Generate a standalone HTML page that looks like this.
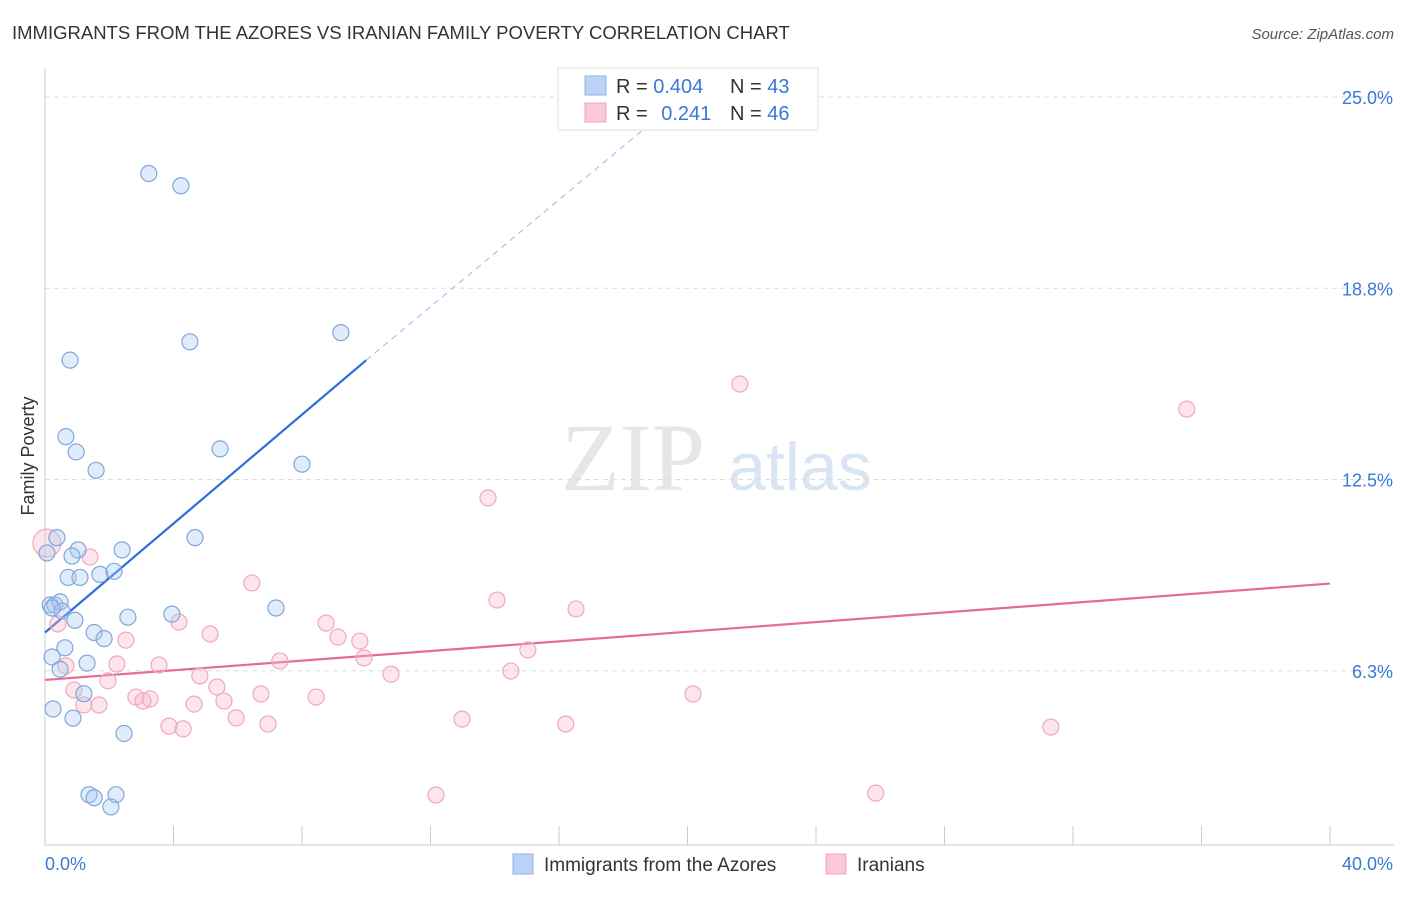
<!DOCTYPE html>
<html><head><meta charset="utf-8"><style>
body{margin:0;background:#fff;font-family:"Liberation Sans",sans-serif}
</style></head><body>
<svg id="chart" width="1406" height="892" xmlns="http://www.w3.org/2000/svg">
<text x="12" y="39" font-size="18.5" fill="#333">IMMIGRANTS FROM THE AZORES VS IRANIAN FAMILY POVERTY CORRELATION CHART</text>
<text x="1394" y="39" font-size="15" fill="#555" font-style="italic" text-anchor="end">Source: ZipAtlas.com</text>
<text x="633" y="490" font-size="96" fill="#e6e6e6" font-family="Liberation Serif" text-anchor="middle">ZIP</text>
<text x="800" y="490" font-size="68" fill="#d9e4f4" text-anchor="middle">atlas</text>
<text transform="translate(34,456) rotate(-90)" font-size="18" fill="#333" text-anchor="middle">Family Poverty</text>
<g id="grid"></g><g id="ticks"></g><g id="lines"></g><g id="pts"></g>
<g>
<rect x="558" y="68" width="260" height="62" fill="#fff" stroke="#ddd"/>
<rect x="585" y="76" width="21" height="19" fill="#bcd3f5" stroke="#8fb2e8"/>
<rect x="585" y="103" width="21" height="19" fill="#fac8d7" stroke="#f0a4bc"/>
<text x="616" y="93" font-size="20" fill="#333">R = <tspan fill="#3a78d6">0.404</tspan></text>
<text x="730" y="93" font-size="20" fill="#333">N = <tspan fill="#3a78d6">43</tspan></text>
<text x="616" y="120" font-size="20" fill="#333">R = <tspan fill="#3a78d6" dx="8">0.241</tspan></text>
<text x="730" y="120" font-size="20" fill="#333">N = <tspan fill="#3a78d6">46</tspan></text>
</g>
<g>
<rect x="513" y="854" width="20" height="20" fill="#bcd3f5" stroke="#8fb2e8"/>
<text x="544" y="871" font-size="19" fill="#333">Immigrants from the Azores</text>
<rect x="826" y="854" width="20" height="20" fill="#fac8d7" stroke="#f0a4bc"/>
<text x="857" y="871" font-size="19" fill="#333">Iranians</text>
</g>
</svg>
<script>
const yTicks=[6.25,12.5,18.75,25];
const yTickLabels=["6.3%","12.5%","18.8%","25.0%"];
const xLabels=["0.0%","40.0%"];
const blueX=[3.23,4.23,4.51,9.21,0.78,0.65,0.97,1.59,5.45,8.00,4.67,2.40,0.37,1.03,0.84,0.06,0.72,1.09,1.71,2.15,0.16,0.31,0.47,0.53,0.22,2.58,0.93,3.95,7.19,1.53,1.84,0.62,0.22,1.31,0.47,1.21,0.25,0.87,2.46,1.37,1.53,2.21,2.05];
const blueY=[22.5,22.1,17.0,17.3,16.4,13.9,13.4,12.8,13.5,13.0,10.6,10.2,10.6,10.2,10.0,10.1,9.3,9.3,9.4,9.5,8.4,8.4,8.5,8.2,8.3,8.0,7.9,8.1,8.3,7.5,7.3,7.0,6.7,6.5,6.3,5.5,5.0,4.7,4.2,2.2,2.1,2.2,1.8];
const pinkX=[21.63,35.54,13.79,1.40,6.44,14.07,16.53,8.75,4.17,0.40,5.14,2.52,9.12,9.80,9.93,7.31,15.03,2.24,3.55,0.65,4.82,10.77,14.50,1.96,5.35,0.90,6.72,8.44,20.17,2.83,3.27,3.05,5.57,1.21,1.68,4.64,5.95,12.98,3.86,4.30,6.94,16.21,31.31,12.17,25.86,0.06];
const pinkY=[15.62,14.80,11.90,9.97,9.12,8.56,8.27,7.81,7.84,7.78,7.45,7.25,7.35,7.22,6.67,6.57,6.93,6.47,6.44,6.41,6.08,6.14,6.24,5.92,5.72,5.62,5.49,5.39,5.49,5.39,5.33,5.26,5.26,5.13,5.13,5.16,4.71,4.67,4.44,4.35,4.51,4.51,4.41,2.19,2.25,10.42];
const blueLine=[0,7.5,10,16.4];const blueDash=[10,16.4,19.5,24.7];
const pinkLine=[0,5.95,40,9.1];
const NS="http://www.w3.org/2000/svg";
const sx=v=>45+v/40*1285, sy=v=>862-v/25*765;
function mk(t,a,p){const e=document.createElementNS(NS,t);for(const k in a)e.setAttribute(k,a[k]);document.getElementById(p).appendChild(e);return e;}
yTicks.forEach((t,i)=>{
 const l=mk('line',{x1:45,x2:1394,y1:sy(t),y2:sy(t),stroke:'#ddd','stroke-dasharray':'5,4'},'grid');
 
 
 const tx=mk('text',{x:1393,y:sy(t)+7,'font-size':18,fill:'#3a78d6','text-anchor':'end'},'ticks');
 tx.textContent=yTickLabels[i];
 
 
});
const ax=mk('line',{x1:45,x2:45,y1:68,y2:845,stroke:'#ccc'},'grid');


const bx=mk('line',{x1:45,x2:1394,y1:845,y2:845,stroke:'#ccc'},'grid');


for(let i=0;i<=10;i++){const t=mk('line',{x1:sx(i*4),x2:sx(i*4),y1:826,y2:845,stroke:'#ccc'},'grid');
 
 }
[[0,'start',45],[40,'end',1393]].forEach((d,i)=>{const t=mk('text',{x:d[2],y:870,'font-size':18,fill:'#3a78d6','text-anchor':d[1]},'ticks');t.textContent=xLabels[i];
 
 });
pinkX.forEach((x,i)=>{const c=mk('circle',{cx:sx(x),cy:sy(pinkY[i]),r:i==pinkX.length-1?14:8,fill:'rgba(248,180,200,0.35)',stroke:'#f2a7be','stroke-width':1.2},'pts');
 
 });
blueX.forEach((x,i)=>{const c=mk('circle',{cx:sx(x),cy:sy(blueY[i]),r:8,fill:'rgba(170,200,240,0.35)',stroke:'#7fa6dc','stroke-width':1.2},'pts');
 
 });
const b1=mk('line',{x1:sx(blueLine[0]),y1:sy(blueLine[1]),x2:sx(blueLine[2]),y2:sy(blueLine[3]),stroke:'#2a6fd8','stroke-width':2.2},'lines');


const b2=mk('line',{x1:sx(blueDash[0]),y1:sy(blueDash[1]),x2:sx(blueDash[2]),y2:sy(blueDash[3]),stroke:'#a9c3ea','stroke-width':1.2,'stroke-dasharray':'6,5'},'lines');


const p1=mk('line',{x1:sx(pinkLine[0]),y1:sy(pinkLine[1]),x2:sx(pinkLine[2]),y2:sy(pinkLine[3]),stroke:'#e56b96','stroke-width':2.2},'lines');


</script>
</body></html>
